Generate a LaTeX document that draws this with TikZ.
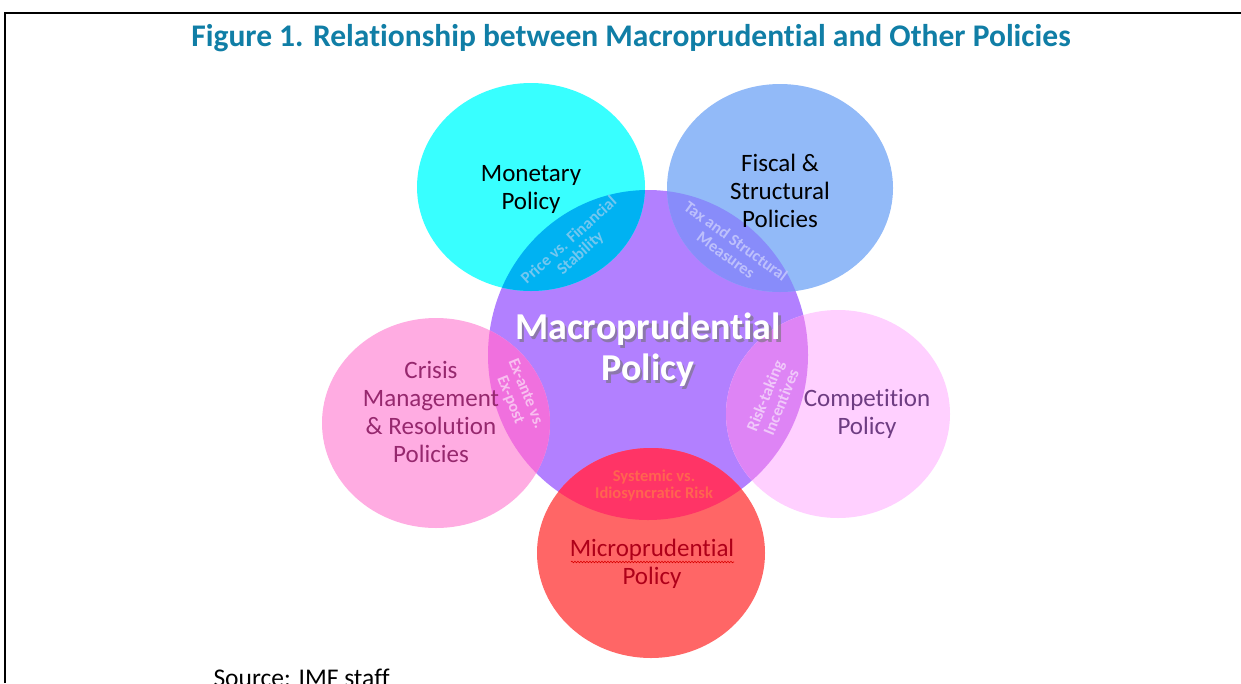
\documentclass[tikz,border=0pt]{standalone}
\usepackage{fontspec}
\setmainfont{Carlito}[Ligatures=NoCommon]
\usetikzlibrary{decorations.pathmorphing}
\definecolor{titleC}{RGB}{16,126,166}
\definecolor{monC}{RGB}{56,255,255}
\definecolor{fisC}{RGB}{146,186,248}
\definecolor{macC}{RGB}{178,128,255}
\definecolor{criC}{RGB}{255,172,226}
\definecolor{comC}{RGB}{255,208,255}
\definecolor{micC}{RGB}{255,102,102}
\definecolor{monX}{RGB}{0,178,242}
\definecolor{fisX}{RGB}{136,140,250}
\definecolor{criX}{RGB}{240,112,222}
\definecolor{comX}{RGB}{222,132,245}
\definecolor{micX}{RGB}{255,52,102}
\definecolor{criT}{RGB}{150,40,110}
\definecolor{comT}{RGB}{110,60,130}
\definecolor{micT}{RGB}{175,0,25}
\tikzset{
  bigtxt/.style={align=center, font=\fontsize{25}{28}\selectfont},
  lenstxt/.style={align=center, font=\fontsize{16.5}{17}\selectfont\bfseries},
}
\begin{document}
\begin{tikzpicture}[x=1pt,y=-1pt]
\useasboundingbox (0,0) rectangle (1241,683);
\fill[white] (0,0) rectangle (1241,683);
% frame
\draw[line width=2.2pt] (5,683) -- (5,13) -- (1241,13);
% title
\node[text=titleC, font=\fontsize{31.5}{34}\selectfont\bfseries] (title) at (631,38) {Figure 1. Relationship between Macroprudential and Other Policies};
% circles
\fill[macC] (648,355) ellipse [x radius=160, y radius=165];
\fill[monC] (531,187) ellipse [x radius=114, y radius=104];
\fill[fisC] (780,188) ellipse [x radius=113, y radius=104];
\fill[criC] (436,423) ellipse [x radius=114, y radius=105];
\fill[comC] (838,414) ellipse [x radius=112, y radius=104];
\fill[micC] (651,553) ellipse [x radius=114, y radius=105];
% lenses
\begin{scope}
\clip (648,355) ellipse [x radius=160, y radius=165];
\fill[monX] (531,187) ellipse [x radius=114, y radius=104];
\fill[fisX] (780,188) ellipse [x radius=113, y radius=104];
\fill[criX] (436,423) ellipse [x radius=114, y radius=105];
\fill[comX] (838,414) ellipse [x radius=112, y radius=104];
\fill[micX] (651,553) ellipse [x radius=114, y radius=105];
\end{scope}
% main labels
\node[bigtxt] (mon) at (531,189) {Monetary\\Policy};
\node[bigtxt] (fis) at (780,191) {Fiscal \&\\Structural\\Policies};
\node[bigtxt, text=criT] (cri) at (431,412) {Crisis\\Management\\\& Resolution\\Policies};
\node[bigtxt, text=comT] (com) at (867,414) {Competition\\Policy};
\node[bigtxt, text=micT] (mic) at (652,564) {Microprudential\\Policy};
\draw[red!85!black, line width=0.6pt, decorate, decoration={snake, amplitude=0.8pt, segment length=3pt}] (571,562) -- (734,562);
% macro label with shadow
\node[align=center, font=\fontsize{38}{41}\selectfont\bfseries, text=black!55, opacity=0.6] at (650.5,352.5) {Macroprudential\\Policy};
\node[align=center, font=\fontsize{38}{41}\selectfont\bfseries, text=white] (mac) at (648,350) {Macroprudential\\Policy};
% lens labels
\node[lenstxt, text=cyan!45!white!80!monX, rotate=42] (l1) at (575,247) {Price vs. Financial\\Stability};
\node[lenstxt, text=fisX!55!white, rotate=-36] (l2) at (731,248) {Tax and Structural\\Measures};
\node[lenstxt, text=criX!45!white, rotate=-68] (l3) at (518,397) {Ex-ante vs.\\Ex-post};
\node[lenstxt, text=comX!45!white, rotate=68] (l4) at (773,399) {Risk-taking\\Incentives};
\node[lenstxt, text={rgb,255:red,255;green,100;blue,80}] (l5) at (654,485) {Systemic vs.\\Idiosyncratic Risk};
% source
\node[anchor=base west, font=\fontsize{25.5}{28}\selectfont] (src) at (210,686) {Source: IMF staff};
\end{tikzpicture}
\end{document}
